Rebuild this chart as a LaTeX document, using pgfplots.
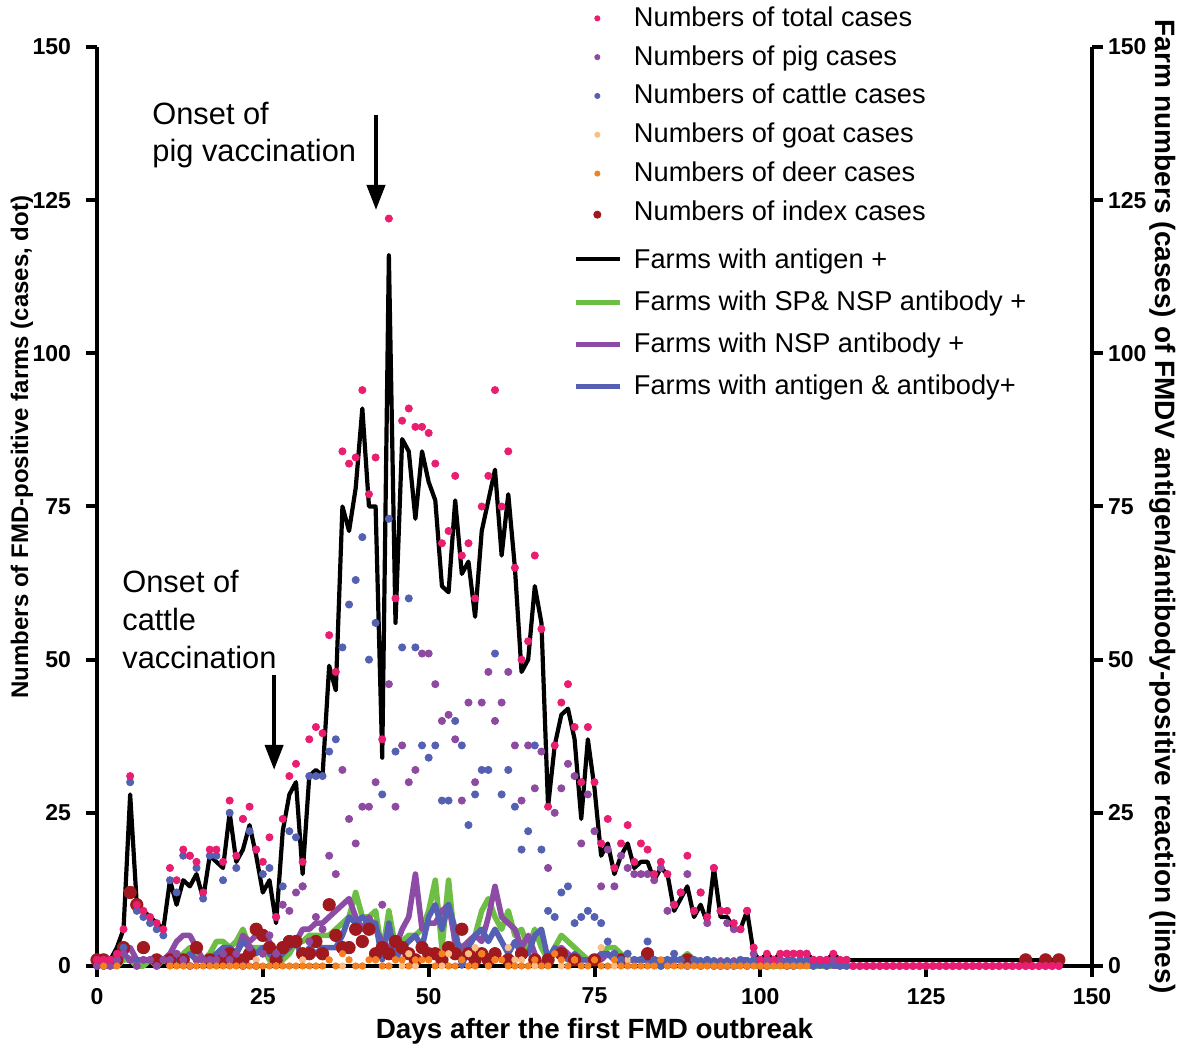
\documentclass[border=0pt]{standalone}
\usepackage{fontspec}
\setmainfont{Liberation Sans}
\usepackage{pgfplots}
\pgfplotsset{compat=1.18}
\usepackage{pgfplotstable}
\usetikzlibrary{arrows.meta,calc}

\definecolor{totalc}{RGB}{233,30,112}
\definecolor{pigc}{RGB}{142,73,160}
\definecolor{cattlec}{RGB}{84,97,178}
\definecolor{goatc}{RGB}{250,190,130}
\definecolor{deerc}{RGB}{245,128,32}
\definecolor{indexc}{RGB}{160,25,30}
\definecolor{lgreen}{RGB}{110,190,70}
\definecolor{lpurple}{RGB}{140,75,165}
\definecolor{lblue}{RGB}{85,95,180}

% daily case counts (dots): day, total, pig, cattle, goat, deer, index
\pgfplotstableread{
d tot pig cat goat deer idx
0 1 0 1 nan nan 1
1 1 0 1 nan 0 1
2 1 0 1 nan nan nan
3 2 1 1 nan 0 1
4 6 2 3 nan nan 3
5 31 1 30 nan nan 12
6 10 0 9 nan nan 10
7 9 1 8 nan nan 3
8 8 1 7 nan nan nan
9 7 0 6 nan nan 1
10 6 1 5 nan nan nan
11 16 1 14 0 0 1
12 14 2 12 nan 0 nan
13 19 1 18 nan 0 1
14 18 0 18 0 0 nan
15 17 1 16 nan 0 3
16 12 1 11 nan 0 nan
17 19 1 18 nan 0 1
18 19 1 18 nan 0 nan
19 17 2 14 nan 0 1
20 27 1 25 0 0 2
21 18 2 16 nan 0 1
22 24 0 24 nan 0 1
23 26 3 22 nan 0 2
24 19 0 19 1 0 6
25 17 2 15 nan 0 5
26 21 5 16 nan 0 3
27 8 2 8 0 0 1
28 24 10 13 nan 0 3
29 31 9 22 0 0 4
30 33 12 21 nan 0 4
31 17 13 13 1 0 2
32 37 4 31 nan 0 2
33 39 8 31 0 0 4
34 38 6 31 nan 0 2
35 54 18 35 1 1 10
36 48 15 37 nan 0 5
37 84 32 52 0 2 3
38 82 24 59 nan 1 3
39 83 20 63 nan 0 6
40 94 26 70 0 0 4
41 77 26 50 nan 1 6
42 83 30 56 1 1 2
43 37 10 28 nan 0 3
44 122 46 73 0 0 2
45 60 26 35 1 1 4
46 89 36 52 0 1 3
47 91 30 60 2 0 2
48 88 32 52 0 1 1
49 88 51 36 nan 1 3
50 87 51 34 1 1 2
51 82 46 36 nan 0 2
52 69 40 27 0 2 1
53 71 41 27 2 0 3
54 80 37 40 nan 0 2
55 67 27 36 nan 1 6
56 69 43 23 2 0 2
57 60 30 28 3 0 1
58 75 43 32 2 2 2
59 80 48 32 nan 0 1
60 94 40 51 1 1 2
61 75 43 28 nan 1 nan
62 84 48 32 3 0 1
63 65 36 26 1 0 nan
64 50 27 19 1 0 2
65 53 36 22 nan 0 nan
66 67 29 36 0 1 1
67 55 35 19 nan 0 nan
68 26 16 9 nan 0 1
69 36 25 8 nan 2 nan
70 43 29 12 0 1 2
71 46 33 13 nan 0 nan
72 39 31 7 1 1 1
73 30 20 8 nan 0 nan
74 39 28 9 nan 0 nan
75 30 22 8 nan 1 1
76 20 13 7 3 0 nan
77 24 19 4 nan 0 nan
78 16 13 2 0 1 nan
79 20 18 1 nan 0 1
80 23 16 2 1 0 nan
81 17 15 1 nan 0 nan
82 20 15 1 nan 0 nan
83 19 15 4 nan 0 2
84 15 14 1 0 0 nan
85 17 16 0 nan 1 nan
86 15 9 1 nan 0 nan
87 10 10 2 nan 0 nan
88 12 12 1 1 0 nan
89 18 15 0 nan 0 1
90 9 9 1 nan 0 nan
91 12 12 0 nan 0 nan
92 8 7 1 0 0 nan
93 16 16 0 nan 0 nan
94 9 9 0 nan 0 nan
95 9 7 0 nan 0 nan
96 7 6 0 nan 0 nan
97 6 6 1 nan 0 nan
98 9 9 0 nan 0 nan
99 3 2 1 nan 0 nan
100 1 0 1 nan 0 nan
101 2 1 0 nan 0 nan
102 1 1 1 nan 0 nan
103 2 1 1 nan 0 nan
104 2 2 0 nan 0 nan
105 2 2 0 nan 0 nan
106 2 2 1 nan 0 nan
107 2 2 1 nan 0 nan
108 1 1 0 nan nan nan
109 1 1 1 nan nan nan
110 1 1 0 nan nan nan
111 2 1 1 nan nan nan
112 1 1 0 nan nan nan
113 1 1 0 nan nan nan
114 0 0 nan nan nan nan
115 0 0 nan nan nan nan
116 0 0 nan nan nan nan
117 0 0 nan nan nan nan
118 0 0 nan nan nan nan
119 0 0 nan nan nan nan
120 0 0 nan nan nan nan
121 0 0 nan nan nan nan
122 0 0 nan nan nan nan
123 0 0 nan nan nan nan
124 0 0 nan nan nan nan
125 0 0 nan nan nan nan
126 0 0 nan nan nan nan
127 0 0 nan nan nan nan
128 0 0 nan nan nan nan
129 0 0 nan nan nan nan
130 0 0 nan nan nan nan
131 0 0 nan nan nan nan
132 0 0 nan nan nan nan
133 0 0 nan nan nan nan
134 0 0 nan nan nan nan
135 0 0 nan nan nan nan
136 0 0 nan nan nan nan
137 0 0 nan nan nan nan
138 0 0 nan nan nan nan
139 0 0 nan nan nan nan
140 0 0 nan nan nan 1
141 0 0 nan nan nan nan
142 0 0 nan nan nan nan
143 0 0 nan nan nan 1
144 0 0 nan nan nan nan
145 0 0 nan nan nan 1
}\dots

% farms positive per day (lines): antigen, SP&NSP, NSP, antigen&antibody
\pgfplotstableread{
d ag sp nsp ab
1 1 0 1 0
2 1 0 1 0
3 3 0 1 1
4 6 1 2 2
5 28 1 3 1
6 10 0 1 1
7 9 0 1 1
8 8 1 1 1
9 7 0 1 1
10 6 1 1 1
11 14 1 2 1
12 10 1 4 1
13 14 2 5 1
14 13 3 5 2
15 15 1 3 1
16 11 1 1 1
17 18 2 1 1
18 17 4 2 2
19 16 4 1 3
20 25 3 3 3
21 17 4 2 2
22 19 6 5 4
23 23 3 4 3
24 18 3 5 2
25 12 3 5 3
26 14 1 4 2
27 7 0 1 1
28 22 1 3 2
29 28 2 4 3
30 30 4 4 4
31 15 4 6 1
32 31 5 6 3
33 32 5 7 2
34 31 5 7 3
35 49 5 8 3
36 45 6 9 3
37 75 7 10 5
38 71 8 11 8
39 78 12 8 7
40 91 8 6 8
41 75 8 8 7
42 75 9 6 7
43 34 2 4 1
44 116 9 3 7
45 56 3 3 1
46 86 4 6 3
47 84 5 8 4
48 73 5 15 5
49 84 6 6 3
50 79 9 7 8
51 76 14 7 10
52 62 3 9 6
53 61 14 10 10
54 76 3 4 6
55 64 2 3 0
56 66 4 4 3
57 57 5 5 5
58 71 9 4 6
59 76 11 8 4
60 81 8 13 6
61 67 6 8 4
62 77 9 7 2
63 65 5 6 4
64 48 6 3 2
65 50 3 5 2
66 62 6 2 5
67 56 3 0 6
68 26 1 1 1
69 36 3 2 3
70 41 5 3 2
71 42 4 2 1
72 37 3 1 2
73 24 2 1 1
74 37 1 1 1
75 29 1 1 1
76 18 2 1 2
77 20 3 2 2
78 15 3 1 1
79 18 2 1 1
80 20 1 1 1
81 16 1 1 1
82 17 1 1 1
83 17 1 1 1
84 14 1 1 0
85 16 1 1 1
86 15 0 1 0
87 9 1 1 1
88 11 1 1 1
89 13 2 1 1
90 8 1 1 0
91 10 1 0 1
92 7 0 1 0
93 16 1 0 1
94 8 0 1 0
95 8 1 0 1
96 6 0 1 0
97 6 0 0 1
98 9 1 1 1
99 2 0 0 0
100 1 0 1 1
101 2 0 0 0
102 1 0 1 1
103 2 0 0 0
104 2 0 1 1
105 2 0 0 1
106 2 0 1 0
107 2 0 0 1
108 1 0 1 1
109 1 0 0 0
110 1 0 1 1
111 2 0 0 0
112 1 0 0 1
113 1 0 0 1
}\lines

\pgfplotsset{
  dotleg/.style={legend image code/.code={%
    \draw[mark repeat=2,mark phase=2,##1] plot coordinates {(0.075cm,0cm) (0.375cm,0cm) (0.675cm,0cm)};}},
  lineleg/.style={legend image code/.code={%
    \draw[##1] (0cm,0cm) -- (0.78cm,0cm);}},
}
% row spacers for the legend
\newcommand{\rA}{\rule[-5.7pt]{0pt}{19.4pt}}
\newcommand{\rB}{\rule[-8pt]{0pt}{21.7pt}}
\newcommand{\rC}{\rule[-6.5pt]{0pt}{22.5pt}}
\newcommand{\rD}{\rule[-6.5pt]{0pt}{21pt}}

\begin{document}
\begin{tikzpicture}
\begin{axis}[
  width=497.5pt, height=459.5pt, scale only axis,
  xmin=0, xmax=150, ymin=0, ymax=150,
  xtick={0,25,...,150}, ytick={0,25,...,150},
  axis x line=bottom, axis y line=left,
  axis line style={line width=2.2pt,-},
  major tick style={line width=2pt,black},
  major tick length=5.5pt, tick align=outside,
  clip=false, unbounded coords=jump,
  /pgf/number format/assume math mode=true,
  ticklabel style={font=\bfseries\fontsize{11.5}{13}\selectfont},
  yticklabel style={xshift=-4pt},
  xticklabel style={yshift=-2pt},
  xlabel={Days after the first FMD outbreak},
  ylabel={Numbers of FMD-positive farms (cases, dot)},
  xlabel style={font=\bfseries\fontsize{13.9}{16}\selectfont},
  ylabel style={font=\bfseries\fontsize{12}{14}\selectfont,
    at={(axis description cs:-0.0754,0.5645)}, anchor=center},
  legend cell align=left,
  legend style={at={(0.4784,1.0527)}, anchor=north west, draw=none, fill=none,
    inner sep=0pt, row sep=0pt, column sep=5.5pt,
    font=\fontsize{13.6}{16}\selectfont,
    nodes={inner sep=0pt, text depth=}, cells={anchor=west}},
]
\coordinate (sw) at (rel axis cs:0,0);
\coordinate (ne) at (rel axis cs:1,1);

% legend
\addlegendimage{dotleg, only marks, mark=*, mark size=1.3pt, color=totalc}
\addlegendentry{\rA Numbers of total cases}
\addlegendimage{dotleg, only marks, mark=*, mark size=1.3pt, color=pigc}
\addlegendentry{\rA Numbers of pig cases}
\addlegendimage{dotleg, only marks, mark=*, mark size=1.3pt, color=cattlec}
\addlegendentry{\rA Numbers of cattle cases}
\addlegendimage{dotleg, only marks, mark=*, mark size=1.3pt, color=goatc}
\addlegendentry{\rA Numbers of goat cases}
\addlegendimage{dotleg, only marks, mark=*, mark size=1.3pt, color=deerc}
\addlegendentry{\rA Numbers of deer cases}
\addlegendimage{dotleg, only marks, mark=*, mark size=1.8pt, color=indexc}
\addlegendentry{\rB Numbers of index cases}
\addlegendimage{lineleg, black, line width=2pt}
\addlegendentry{\rC Farms with antigen +}
\addlegendimage{lineleg, lgreen, line width=2.6pt}
\addlegendentry{\rD Farms with SP\& NSP antibody +}
\addlegendimage{lineleg, lpurple, line width=2.6pt}
\addlegendentry{\rD Farms with NSP antibody +}
\addlegendimage{lineleg, lblue, line width=2.6pt}
\addlegendentry{\rD Farms with antigen \& antibody+}

% dots
\addplot[forget plot, only marks, mark=*, mark size=3.1pt, color=indexc] table[x=d, y=idx] {\dots};
\addplot[forget plot, only marks, mark=*, mark size=1.6pt, color=goatc] table[x=d, y=goat] {\dots};
\addplot[forget plot, only marks, mark=*, mark size=1.8pt, color=cattlec] table[x=d, y=cat] {\dots};
\addplot[forget plot, only marks, mark=*, mark size=1.8pt, color=pigc] table[x=d, y=pig] {\dots};
\addplot[forget plot, only marks, mark=*, mark size=1.8pt, color=totalc] table[x=d, y=tot] {\dots};

% lines
\addplot[forget plot, black, line width=2.1pt, line join=round] table[x=d, y=ag] {\lines};
\addplot[forget plot, black, line width=2.1pt] coordinates {(113,1) (145,1)};
\addplot[forget plot, lgreen, line width=2.8pt, line join=round] table[x=d, y=sp] {\lines};
\addplot[forget plot, lpurple, line width=2.8pt, line join=round] table[x=d, y=nsp] {\lines};
\addplot[forget plot, lblue, line width=2.8pt, line join=round] table[x=d, y=ab] {\lines};
\addplot[forget plot, only marks, mark=*, mark size=1.6pt, color=deerc] table[x=d, y=deer] {\dots};

% vaccination annotations
\node[anchor=base west, inner sep=0pt, font=\fontsize{15.4}{18}\selectfont] at (axis cs:8.29,137.3) {Onset of};
\node[anchor=base west, inner sep=0pt, font=\fontsize{15.4}{18}\selectfont] at (axis cs:8.29,131.3) {pig vaccination};
\draw[line width=2pt, -{Triangle[width=9pt,length=12.5pt]}] (axis cs:42.06,138.9) -- (axis cs:42.06,123.4);
\node[anchor=base west, inner sep=0pt, font=\fontsize{15.4}{18}\selectfont] at (axis cs:3.77,60.9) {Onset of};
\node[anchor=base west, inner sep=0pt, font=\fontsize{15.4}{18}\selectfont] at (axis cs:3.77,54.7) {cattle};
\node[anchor=base west, inner sep=0pt, font=\fontsize{15.4}{18}\selectfont] at (axis cs:3.77,48.6) {vaccination};
\draw[line width=2pt, -{Triangle[width=9pt,length=12.5pt]}] (axis cs:26.7,47.5) -- (axis cs:26.7,32);
\end{axis}

\begin{axis}[
  width=497.5pt, height=459.5pt, scale only axis,
  xmin=0, xmax=150, ymin=0, ymax=150,
  axis x line=none, axis y line=right,
  ytick={0,25,...,150},
  axis line style={line width=2.2pt,-},
  major tick style={line width=2pt,black},
  major tick length=5.5pt, tick align=outside,
  /pgf/number format/assume math mode=true,
  yticklabel style={font=\bfseries\fontsize{11.5}{13}\selectfont, xshift=-1pt},
  ylabel={Farm numbers (cases) of FMDV antigen/antibody-positive reaction (lines)},
  ylabel style={font=\bfseries\fontsize{14}{16}\selectfont, rotate=180,
    at={(axis description cs:1.0714,0.5)}, anchor=center},
]
\end{axis}

\pgfresetboundingbox
\path ($(sw)+(-48.5pt,-41pt)$) rectangle ($(ne)+(43pt,23.5pt)$);
\end{tikzpicture}
\end{document}
